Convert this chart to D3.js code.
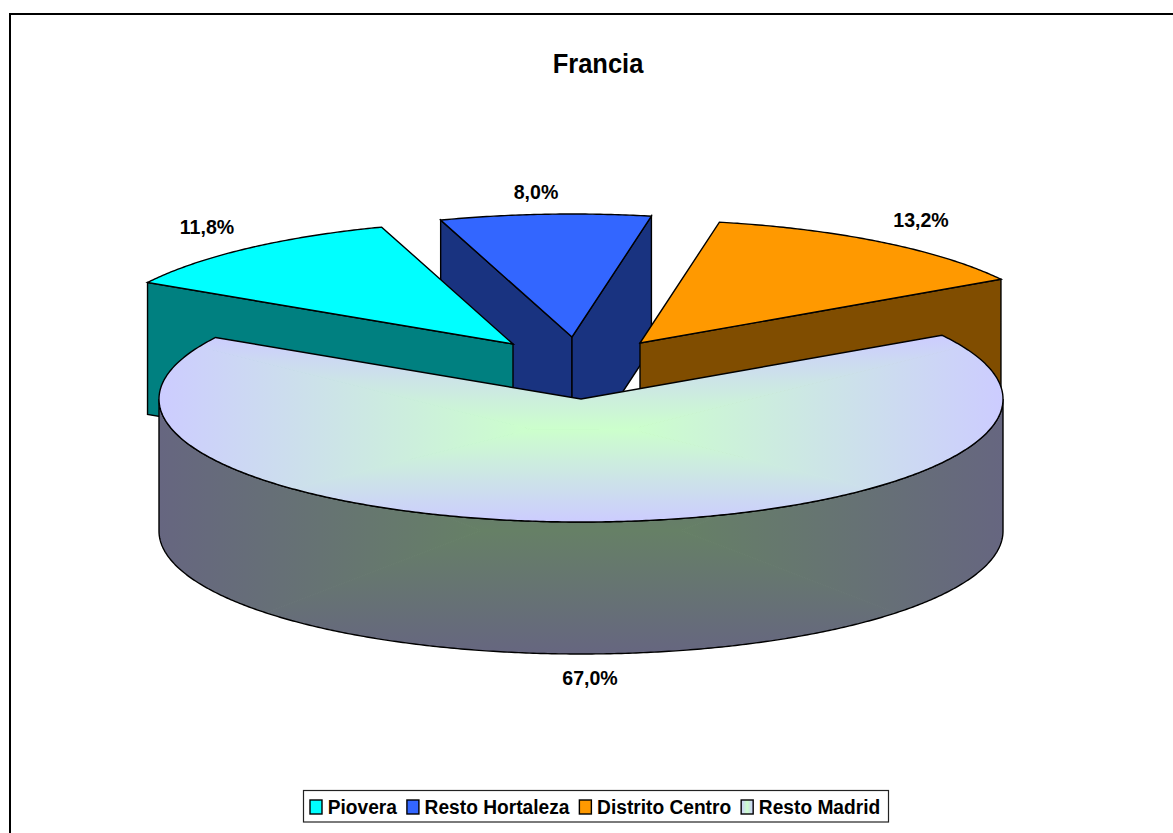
<!DOCTYPE html>
<html><head><meta charset="utf-8">
<script src="https://cdnjs.cloudflare.com/ajax/libs/d3/7.8.5/d3.min.js"></script>
<style>html,body{margin:0;padding:0;background:#fff;overflow:hidden}svg{display:block}
text{font-family:"Liberation Sans",Arial,sans-serif;font-weight:bold;fill:#000}</style>
</head><body><svg id="c" width="1173" height="833"></svg>
<script>
const categories = ["Piovera","Resto Hortaleza","Distrito Centro","Resto Madrid"];
const values = [11.8,8.0,13.2,67.0];
const labels = ["11,8%","8,0%","13,2%","67,0%"];
const topColors = ["#00FFFF","#3366FF","#FF9900",null];
const sideColors = ["#008080","#193380","#804D00",null];
const title = "Francia";

// layout
const W=1173,H=833, rx=422, ry=123, depth=132;
const apexes=[[513,344],[572,337],[640,343],[581,399]];
const labelPos=[[207,226.5],[536,191.5],[921,219.5],[590,677.5]];
const rad=Math.PI/180;

const svg=d3.select("#c");
svg.append("rect").attr("x",10).attr("y",14).attr("width",W+20).attr("height",H+20)
  .attr("fill","#fff").attr("stroke","#000").attr("stroke-width",2);

const slices=d3.pie().sort(null).startAngle(-60*rad).endAngle(300*rad)(values);
const px=d3.scaleLinear().domain([-1,1]).range([-rx,rx]);
const py=d3.scaleLinear().domain([-1,1]).range([ry,-ry]);
// slight angular warp for the far side, standing in for the original's perspective
const warp=a=>Math.abs(a)<60*rad ? a-(0.0095-0.008*a)*Math.cos(1.5*a) : a;
const pt=(i,a,dz=0)=>{const w=warp(a);return [apexes[i][0]+px(Math.sin(w)),apexes[i][1]+py(Math.cos(w))+dz];};
const line=d3.line();
const arcPts=(i,a0,a1,dz=0)=>{const n=Math.max(2,Math.ceil((a1-a0)/(0.5*rad)));
  return d3.range(n+1).map(k=>pt(i,a0+(a1-a0)*k/n,dz));};

const defs=svg.append("defs");
// rectangular ("from centre") gradient with a small central plateau
function rectGradient(g,id,path,box,cIn,cOut,pl){
  const [x0,y0,x1,y1]=box,cx=(x0+x1)/2,cy=(y0+y1)/2;
  const L=[cx-pl,cy],R=[cx+pl,cy];
  defs.append("clipPath").attr("id",id+"c").append("path").attr("d",path);
  const grp=g.append("g").attr("clip-path",`url(#${id}c)`);
  const sides=[
    {n:"l",t:[L,[x0,y0],[x0,y1]],v:[L[0],cy,x0,cy]},
    {n:"r",t:[R,[x1,y0],[x1,y1]],v:[R[0],cy,x1,cy]},
    {n:"t",t:[L,[x0,y0],[x1,y0],R],v:[cx,cy,cx,y0]},
    {n:"b",t:[L,[x0,y1],[x1,y1],R],v:[cx,cy,cx,y1]}];
  sides.forEach(s=>{
    const lg=defs.append("linearGradient").attr("id",id+s.n).attr("gradientUnits","userSpaceOnUse")
      .attr("x1",s.v[0]).attr("y1",s.v[1]).attr("x2",s.v[2]).attr("y2",s.v[3]);
    lg.append("stop").attr("offset",0).attr("stop-color",cIn);
    lg.append("stop").attr("offset",1).attr("stop-color",cOut);
    grp.append("path").attr("d",line(s.t)+"Z").attr("fill",`url(#${id}${s.n})`)
      .attr("stroke",`url(#${id}${s.n})`).attr("stroke-width",1);
  });
}

const chart=svg.append("g");
const SW=1.4;
const outline=p=>chart.append("path").attr("d",p).attr("stroke","#000").attr("stroke-width",SW).attr("stroke-linejoin","miter");

[1,0,2,3].forEach(i=>{
  const s=slices[i],a0=s.startAngle,a1=s.endAngle,ap=apexes[i];
  const apB=[ap[0],ap[1]+depth];
  if(Math.sin(a0)<0) outline(line([pt(i,a0),ap,apB,pt(i,a0,depth)])+"Z").attr("fill",sideColors[i]);
  if(Math.sin(a1)>0) outline(line([pt(i,a1),ap,apB,pt(i,a1,depth)])+"Z").attr("fill",sideColors[i]);
  const b0=Math.max(a0,90*rad),b1=Math.min(a1,270*rad);
  const topPath=line([ap,...arcPts(i,a0,a1)])+"Z";
  if(i===3){
    const wall=arcPts(i,b0,b1).concat(arcPts(i,b0,b1,depth).reverse());
    const wallPath=line(wall)+"Z";
    rectGradient(chart,"wall",wallPath,[ap[0]-rx,ap[1]+8,ap[0]+rx,ap[1]+ry+depth],"#668066","#666680",100);
    outline(wallPath).attr("fill","none");
    rectGradient(chart,"top",topPath,[ap[0]-rx,pt(i,a1)[1]-1,ap[0]+rx,ap[1]+ry],"#CCFFCC","#CCCCFF",50);
    outline(topPath).attr("fill","none");
  } else {
    outline(topPath).attr("fill",topColors[i]);
  }
});

const sqText=(sel,x,y,size,sx,anchor,t)=>sel.append("text")
  .attr("transform",`translate(${x},${y}) scale(${sx},1)`).attr("text-anchor",anchor)
  .style("font-size",size+"px").text(t);

labels.forEach((t,i)=>sqText(svg,labelPos[i][0],labelPos[i][1]+7.5,20.5,0.955,"middle",t));
sqText(svg,598,72.7,28.5,0.895,"middle",title);

// legend
const lx=303,ly=790,lh=31.5;
const lbox=svg.append("rect").attr("x",lx+.5).attr("y",ly+.5).attr("height",lh).attr("fill","#fff").attr("stroke","#222").attr("stroke-width",1.2);
let cur=lx+7;
const lg=svg.append("g");
const lgGrad=defs.append("linearGradient").attr("id","lgm");
lgGrad.append("stop").attr("offset",0).attr("stop-color","#CCCCFF");
lgGrad.append("stop").attr("offset",.5).attr("stop-color","#CCFFCC");
lgGrad.append("stop").attr("offset",1).attr("stop-color","#CCCCFF");
categories.forEach((c,i)=>{
  lg.append("rect").attr("x",cur).attr("y",ly+10).attr("width",12).attr("height",14)
    .attr("fill",topColors[i]||"url(#lgm)").attr("stroke","#000").attr("stroke-width",1.4);
  const t=sqText(lg,cur+17.7,ly+24.3,20,0.958,"start",c);
  cur+=17.7+t.node().getComputedTextLength()*0.958+10;
});
lbox.attr("width",888-lx);
</script></body></html>
